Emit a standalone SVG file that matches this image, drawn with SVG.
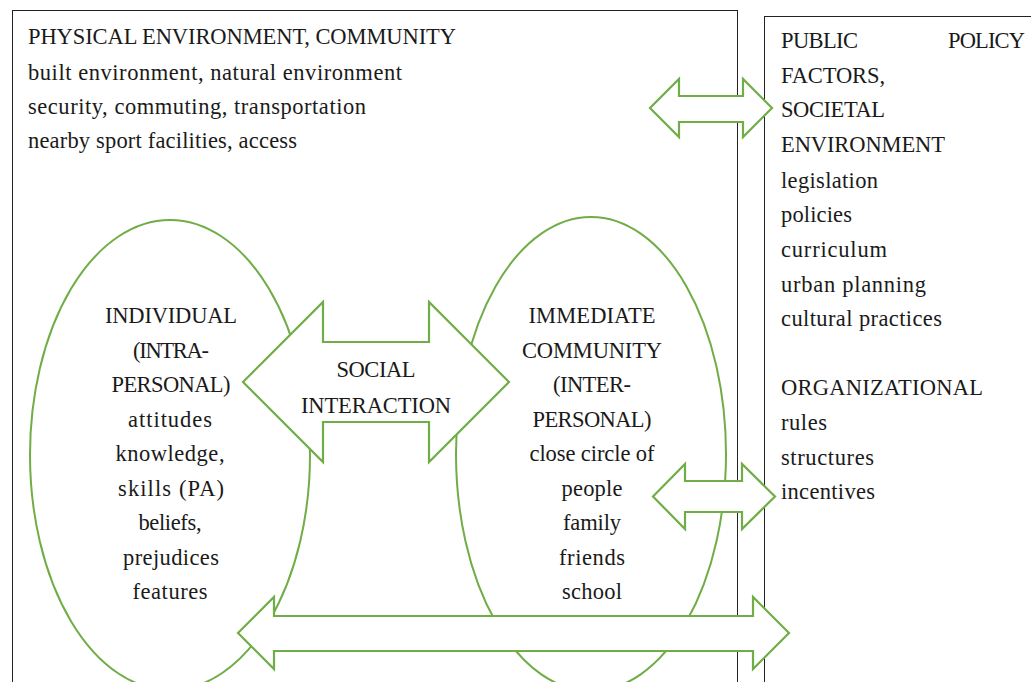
<svg xmlns="http://www.w3.org/2000/svg" width="1031" height="682" viewBox="0 0 1031 682">
<style>
.box{fill:#fff;stroke:#222;stroke-width:1}
.ell{fill:none;stroke:#70AD47;stroke-width:2}
.arr{fill:#fff;stroke:#70AD47;stroke-width:2.2;stroke-linejoin:miter}
text{font-family:"Liberation Serif","DejaVu Serif",serif;font-size:22.5px;fill:#1a1a1a}
.c{text-anchor:middle}
</style>
<rect width="1031" height="682" fill="#fff"/>
<g id="physical-environment">
<rect class="box" x="12.5" y="10.5" width="725" height="700"/>
<text x="28" y="44" textLength="428">PHYSICAL ENVIRONMENT, COMMUNITY</text>
<text x="28" y="80" textLength="374">built environment, natural environment</text>
<text x="28" y="114" textLength="338">security, commuting, transportation</text>
<text x="28" y="148" textLength="269">nearby sport facilities, access</text>
</g>
<g id="public-policy">
<rect class="box" x="764.5" y="16.5" width="300" height="700"/>
<text x="781" y="48" textLength="77">PUBLIC</text>
<text x="948" y="48" textLength="77">POLICY</text>
<text x="781" y="83" textLength="104">FACTORS,</text>
<text x="781" y="117" textLength="104">SOCIETAL</text>
<text x="781" y="152" textLength="164">ENVIRONMENT</text>
<text x="781" y="188" textLength="97">legislation</text>
<text x="781" y="222" textLength="71">policies</text>
<text x="781" y="257" textLength="106">curriculum</text>
<text x="781" y="292" textLength="145">urban planning</text>
<text x="781" y="326" textLength="161">cultural practices</text>
<text x="781" y="395" textLength="202">ORGANIZATIONAL</text>
<text x="781" y="430" textLength="46">rules</text>
<text x="781" y="465" textLength="93">structures</text>
<text x="781" y="499" textLength="94">incentives</text>
</g>
<g id="individual">
<ellipse class="ell" cx="170" cy="455" rx="140" ry="235"/>
<text class="c" x="171" y="323" textLength="132">INDIVIDUAL</text>
<text class="c" x="171" y="357.5" textLength="76">(INTRA-</text>
<text class="c" x="171" y="392" textLength="119">PERSONAL)</text>
<text class="c" x="170" y="426.5" textLength="84">attitudes</text>
<text class="c" x="170" y="461" textLength="109">knowledge,</text>
<text class="c" x="171" y="495.5" textLength="106">skills (PA)</text>
<text class="c" x="170" y="530" textLength="63">beliefs,</text>
<text class="c" x="171" y="564.5" textLength="96">prejudices</text>
<text class="c" x="170" y="599" textLength="75">features</text>
</g>
<g id="immediate-community">
<ellipse class="ell" cx="591" cy="454" rx="135" ry="237"/>
<text class="c" x="592" y="323" textLength="127">IMMEDIATE</text>
<text class="c" x="592" y="357.5" textLength="140">COMMUNITY</text>
<text class="c" x="592" y="392" textLength="78">(INTER-</text>
<text class="c" x="592" y="426.5" textLength="119">PERSONAL)</text>
<text class="c" x="592" y="461" textLength="125">close circle of</text>
<text class="c" x="592" y="495.5" textLength="61">people</text>
<text class="c" x="592" y="530" textLength="58">family</text>
<text class="c" x="592" y="564.5" textLength="66">friends</text>
<text class="c" x="592" y="599" textLength="60">school</text>
</g>
<g id="connectors">
<path class="arr" d="M243,382 L323,302 L323,342 L429,342 L429,302 L509,382 L429,462 L429,422 L323,422 L323,462 Z"/>
<text class="c" x="376" y="377" textLength="79">SOCIAL</text>
<text class="c" x="376" y="413" textLength="150">INTERACTION</text>
<path class="arr" d="M650,108 L679,79 L679,96 L743,96 L743,79 L772,108 L743,137 L743,122 L679,122 L679,137 Z"/>
<path class="arr" d="M653,496.5 L685,464 L685,481 L742,481 L742,464 L775,496.5 L742,529 L742,512 L685,512 L685,529 Z"/>
<path class="arr" d="M238,633 L274,597 L274,616 L753,616 L753,597 L789,633 L753,669 L753,651 L274,651 L274,669 Z"/>
</g>
</svg>
